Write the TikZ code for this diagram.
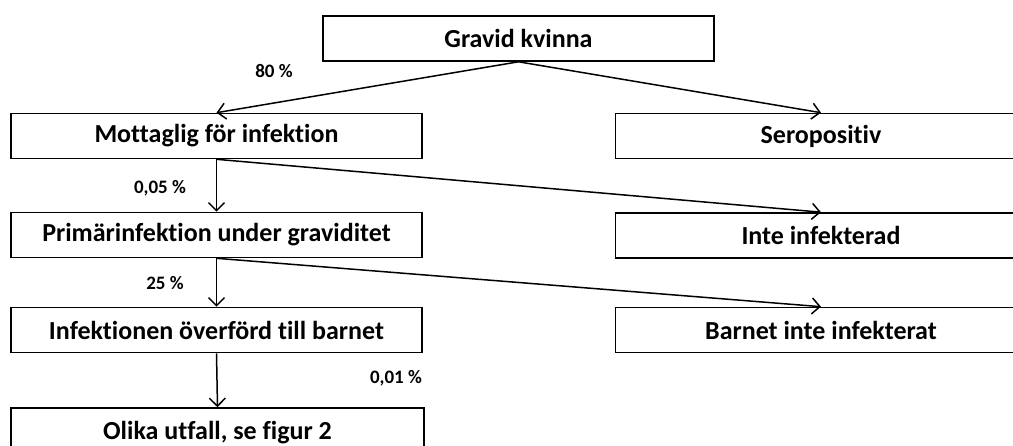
\documentclass[tikz,border=0pt]{standalone}
\usepackage{fontspec}
\setmainfont{Carlito}[Ligatures=NoCommon]
\usetikzlibrary{arrows.meta}
\tikzset{
  boxfont/.style={font=\fontsize{26}{30}\selectfont\bfseries},
  box/.style={draw=black, line width=1.6pt, rectangle, inner sep=0pt,
    minimum height=45pt, boxfont},
  pct/.style={inner sep=0pt, font=\fontsize{19}{22}\selectfont\bfseries},
  link/.style={line width=1.5pt, -{Straight Barb[length=8pt,width=16pt,line width=1.5pt]}},
}
\begin{document}
\begin{tikzpicture}[x=1pt, y=-1pt]
\useasboundingbox (0,0) rectangle (1013,446);
\clip (0,0) rectangle (1013,446);
\fill[white] (0,0) rectangle (1013,446);

% boxes
\node[box, minimum width=391pt] (gk) at (518.5,38.5) {Gravid kvinna};
\node[box, minimum width=411pt] (mf) at (216.5,136) {Mottaglig för infektion};
\node[box, minimum width=411pt] (sp) at (821,136) {Seropositiv};
\node[box, minimum width=411pt] (pg) at (216.5,235) {Primärinfektion under graviditet};
\node[box, minimum width=411pt] (ii) at (821,235.5) {Inte infekterad};
\node[box, minimum width=411pt] (ob) at (216.5,330) {Infektionen överförd till barnet};
\node[box, minimum width=411pt] (bi) at (821,330) {Barnet inte infekterat};
\node[box, minimum width=413pt, minimum height=46pt] (ou) at (217.5,431) {};
\node[boxfont, inner sep=0pt, anchor=base] (out) at (217.5,440) {Olika utfall, se figur 2};

% connectors
\draw[link] (gk.south) -- (mf.north);
\draw[link] (gk.south) -- (sp.north);
\draw[link] (mf.south) -- (pg.north);
\draw[link] (mf.south) -- (ii.north);
\draw[link] (pg.south) -- (ob.north);
\draw[link] (pg.south) -- (bi.north);
\draw[link] (ob.south) -- (ou.north);

% probabilities
\node[pct] (p1) at (274,71) {80 \%};
\node[pct] (p2) at (160,188) {0,05 \%};
\node[pct] (p3) at (165,283) {25 \%};
\node[pct] (p4) at (396,378) {0,01 \%};
\end{tikzpicture}
\end{document}
